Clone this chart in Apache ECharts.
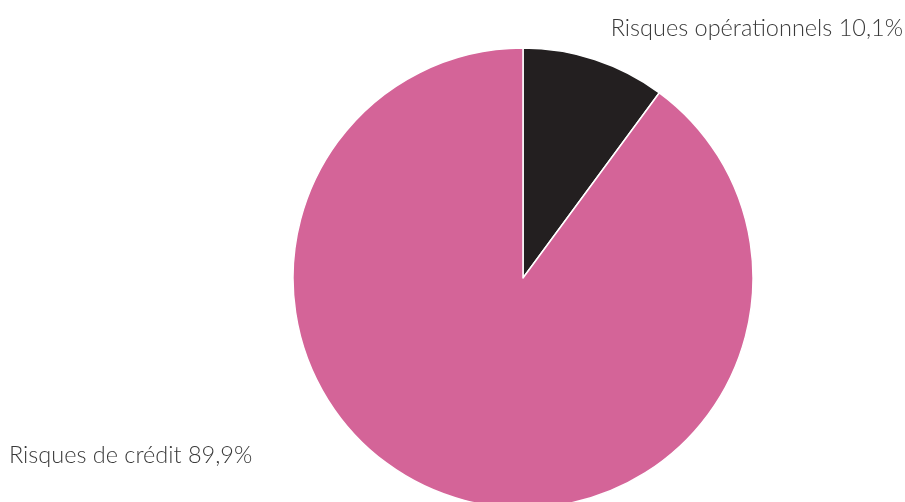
<!DOCTYPE html>
<html lang="fr">
<head>
    <meta charset="UTF-8">
    <title>Répartition des risques</title>
    <script src="https://cdn.jsdelivr.net/npm/echarts@6/dist/echarts.min.js"></script>
    <style>
        html, body { margin: 0; padding: 0; background: #fff; }
    </style>
</head>
<body>
    <div id="chart" style="width: 905px; height: 502px;"></div>
    <script>
        const categories = ['Risques opérationnels', 'Risques de crédit'];
        const shares = [10.1, 89.9]; // en %
        const colors = ['#231f20', '#d46498'];

        // position des étiquettes (x, y, alignement)
        const labelSpots = [
            {x: 903, y: 28, align: 'right'},
            {x: 9, y: 455, align: 'left'}
        ];

        const chart = echarts.init(document.getElementById('chart'));
        chart.setOption({
            animation: false,
            series: [{
                type: 'pie',
                center: [523, 278],
                radius: [0, 230],
                startAngle: 90,
                clockwise: true,
                data: categories.map((name, i) => ({
                    name: name,
                    value: shares[i],
                    itemStyle: {color: colors[i]}
                })),
                itemStyle: {borderColor: '#fff', borderWidth: 1.5},
                label: {
                    show: true,
                    formatter: p => p.name + ' ' + String(p.value).replace('.', ',') + '%',
                    fontFamily: 'Lato',
                    fontWeight: 300,
                    fontSize: 23.5,
                    color: '#3a3a3a',
                    overflow: 'none'
                },
                labelLine: {show: false},
                labelLayout: params => {
                    const s = labelSpots[params.dataIndex];
                    return {x: s.x, y: s.y, align: s.align, verticalAlign: 'middle'};
                },
                emphasis: {disabled: true}
            }]
        });
    </script>
</body>
</html>
